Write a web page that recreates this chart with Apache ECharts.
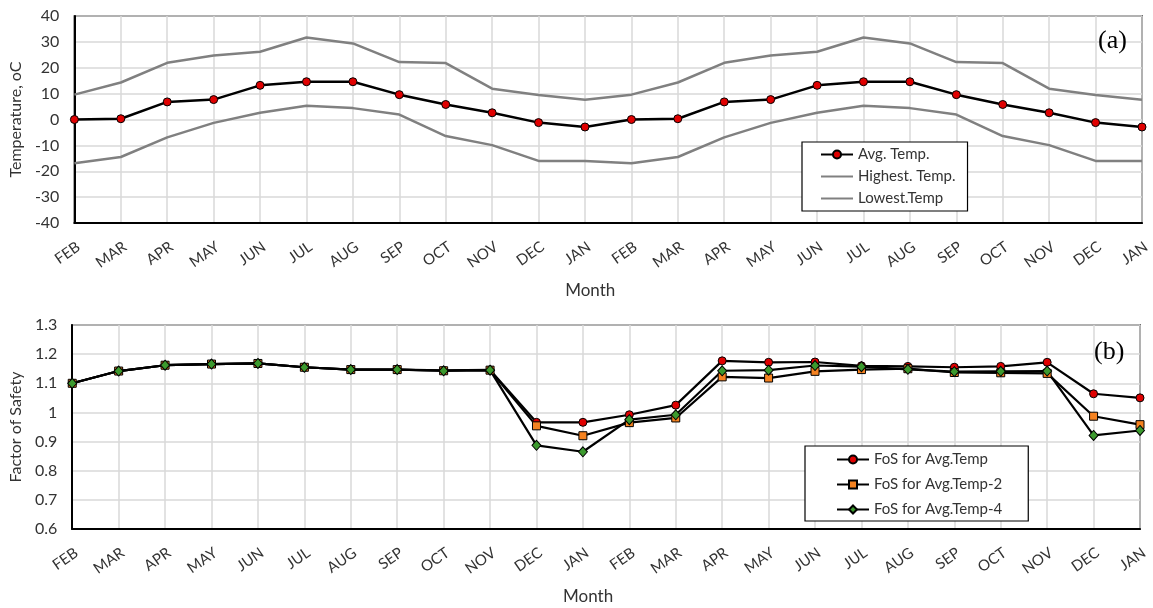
<!DOCTYPE html>
<html>
<head>
<meta charset="utf-8">
<script src="https://cdn.jsdelivr.net/npm/echarts@6/dist/echarts.min.js"></script>
<style>
  html, body { margin: 0; padding: 0; background: #fff; }
  #chart { width: 1153px; height: 608px; }
</style>
</head>
<body>
<div id="chart"></div>
<script>
// Month labels along both panels (two years)
const months = ['FEB','MAR','APR','MAY','JUN','JUL','AUG','SEP','OCT','NOV','DEC','JAN',
                'FEB','MAR','APR','MAY','JUN','JUL','AUG','SEP','OCT','NOV','DEC','JAN'];

// Panel (a): temperatures, oC
const avgTemp     = [0, 0.3, 6.8, 7.7, 13.2, 14.6, 14.6, 9.6, 5.8, 2.6, -1.2, -2.9,
                     0, 0.3, 6.8, 7.7, 13.2, 14.6, 14.6, 9.6, 5.8, 2.6, -1.2, -2.9];
const highestTemp = [9.6, 14.3, 21.9, 24.7, 26.2, 31.7, 29.4, 22.2, 21.8, 11.9, 9.5, 7.6,
                     9.6, 14.3, 21.9, 24.7, 26.2, 31.7, 29.4, 22.2, 21.8, 11.9, 9.5, 7.6];
const lowestTemp  = [-16.9, -14.5, -6.9, -1.3, 2.6, 5.3, 4.4, 1.9, -6.4, -9.9, -16.0, -16.0,
                     -16.9, -14.5, -6.9, -1.3, 2.6, 5.3, 4.4, 1.9, -6.4, -9.9, -16.0, -16.0];

// Panel (b): factor of safety
const fosAvg  = [1.100, 1.142, 1.162, 1.166, 1.168, 1.155, 1.147, 1.147, 1.144, 1.146,
                 0.966, 0.966, 0.992, 1.025, 1.177, 1.172, 1.173, 1.160, 1.158, 1.155, 1.158, 1.172, 1.064, 1.050];
const fosAvg2 = [1.100, 1.142, 1.162, 1.166, 1.168, 1.155, 1.147, 1.147, 1.143, 1.145,
                 0.954, 0.920, 0.965, 0.981, 1.122, 1.118, 1.141, 1.147, 1.150, 1.137, 1.136, 1.134, 0.987, 0.958];
const fosAvg4 = [1.100, 1.142, 1.162, 1.166, 1.168, 1.155, 1.147, 1.147, 1.143, 1.145,
                 0.887, 0.865, 0.975, 0.992, 1.143, 1.145, 1.161, 1.157, 1.148, 1.140, 1.141, 1.142, 0.921, 0.938];

const tempTicks = { min: -40, max: 40, interval: 10 };
const fosTicks  = { min: 0.6, max: 1.3, interval: 0.1 };

const TEXT = '#333';
const FONT = 'Lato';
const GRIDLINE = '#d9d9d9';

const chart = echarts.init(document.getElementById('chart'), null, { renderer: 'canvas' });

function xAxis(gridIndex) {
  return {
    type: 'category', gridIndex, data: months, boundaryGap: false,
    name: 'Month', nameLocation: 'middle', nameGap: 59,
    nameTextStyle: { color: TEXT, fontFamily: FONT, fontSize: 17, padding: [0, 36, 0, 0] },
    axisLine: { onZero: false, lineStyle: { color: '#000', width: 2 } },
    axisTick: { show: false },
    axisLabel: {
      interval: 0, rotate: 35, margin: 25, padding: [0, -5, 0, 0],
      color: TEXT, fontFamily: FONT, fontSize: 15
    },
    splitLine: { show: true, lineStyle: { color: GRIDLINE, width: 1.5 } }
  };
}

function yAxis(gridIndex, ticks, name, decimals) {
  return {
    type: 'value', gridIndex, min: ticks.min, max: ticks.max, interval: ticks.interval,
    name, nameLocation: 'middle', nameGap: 46,
    nameTextStyle: { color: TEXT, fontFamily: FONT, fontSize: 16 },
    axisLine: { show: true, onZero: false, lineStyle: { color: '#000', width: 2 } },
    axisTick: { show: false },
    axisLabel: {
      color: TEXT, fontFamily: FONT, fontSize: 16, margin: 15,
      formatter: v => decimals ? String(+v.toFixed(1)) : String(Math.round(v))
    },
    splitLine: { show: true, lineStyle: { color: GRIDLINE, width: 1.5 } }
  };
}

// line-only legend entries: hide the marker glyph
const lineOnly = name => ({ name, itemStyle: { color: 'rgba(0,0,0,0)', borderWidth: 0 } });

const legendBase = {
  orient: 'vertical', backgroundColor: '#fff', borderColor: '#000', borderWidth: 1.2,
  itemWidth: 32, itemHeight: 10, itemGap: 7,
  textStyle: { color: TEXT, fontFamily: FONT, fontSize: 15 }
};

chart.setOption({
  animation: false,
  backgroundColor: '#fff',
  title: [
    { text: '(a)', left: 1093, top: 23, textStyle: { fontFamily: 'Liberation Serif', fontSize: 26, fontWeight: 'normal', color: '#000' } },
    { text: '(b)', left: 1089, top: 334, textStyle: { fontFamily: 'Liberation Serif', fontSize: 26, fontWeight: 'normal', color: '#000' } }
  ],
  grid: [
    { left: 72, top: 16, right: 11, height: 207, show: true, borderColor: '#000', borderWidth: 1.5 },
    { left: 72, top: 325, right: 13, height: 204, show: true, borderColor: '#000', borderWidth: 1.5 }
  ],
  xAxis: [xAxis(0), xAxis(1)],
  yAxis: [
    yAxis(0, tempTicks, 'Temperature, oC', false),
    yAxis(1, fosTicks, 'Factor of Safety', true)
  ],
  legend: [
    Object.assign({}, legendBase, {
      left: 802, top: 142, padding: [5, 12, 5, 18],
      data: ['Avg. Temp.', lineOnly('Highest. Temp.'), lineOnly('Lowest.Temp')]
    }),
    Object.assign({}, legendBase, {
      left: 805, top: 446, padding: [6, 26, 4, 31], itemGap: 10,
      data: ['FoS for Avg.Temp', 'FoS for Avg.Temp-2', 'FoS for Avg.Temp-4']
    })
  ],
  series: [
    {
      name: 'Highest. Temp.', type: 'line', xAxisIndex: 0, yAxisIndex: 0, data: highestTemp,
      showSymbol: false, symbol: 'none', lineStyle: { color: '#808080', width: 2.5 }, itemStyle: { color: '#808080' }
    },
    {
      name: 'Lowest.Temp', type: 'line', xAxisIndex: 0, yAxisIndex: 0, data: lowestTemp,
      showSymbol: false, symbol: 'none', lineStyle: { color: '#808080', width: 2.5 }, itemStyle: { color: '#808080' }
    },
    {
      name: 'Avg. Temp.', type: 'line', xAxisIndex: 0, yAxisIndex: 0, data: avgTemp,
      symbol: 'circle', symbolSize: 8, lineStyle: { color: '#000', width: 2.5 },
      itemStyle: { color: '#e00000', borderColor: '#000', borderWidth: 1 }
    },
    {
      name: 'FoS for Avg.Temp', type: 'line', xAxisIndex: 1, yAxisIndex: 1, data: fosAvg,
      symbol: 'circle', symbolSize: 8, lineStyle: { color: '#000', width: 2.2 },
      itemStyle: { color: '#e00000', borderColor: '#000', borderWidth: 1 }
    },
    {
      name: 'FoS for Avg.Temp-2', type: 'line', xAxisIndex: 1, yAxisIndex: 1, data: fosAvg2,
      symbol: 'rect', symbolSize: 8, lineStyle: { color: '#000', width: 2.2 },
      itemStyle: { color: '#f58220', borderColor: '#000', borderWidth: 1 }
    },
    {
      name: 'FoS for Avg.Temp-4', type: 'line', xAxisIndex: 1, yAxisIndex: 1, data: fosAvg4,
      symbol: 'diamond', symbolSize: [9, 10], lineStyle: { color: '#000', width: 2.2 },
      itemStyle: { color: '#3c9a2e', borderColor: '#000', borderWidth: 1 }
    }
  ]
});
</script>
</body>
</html>
